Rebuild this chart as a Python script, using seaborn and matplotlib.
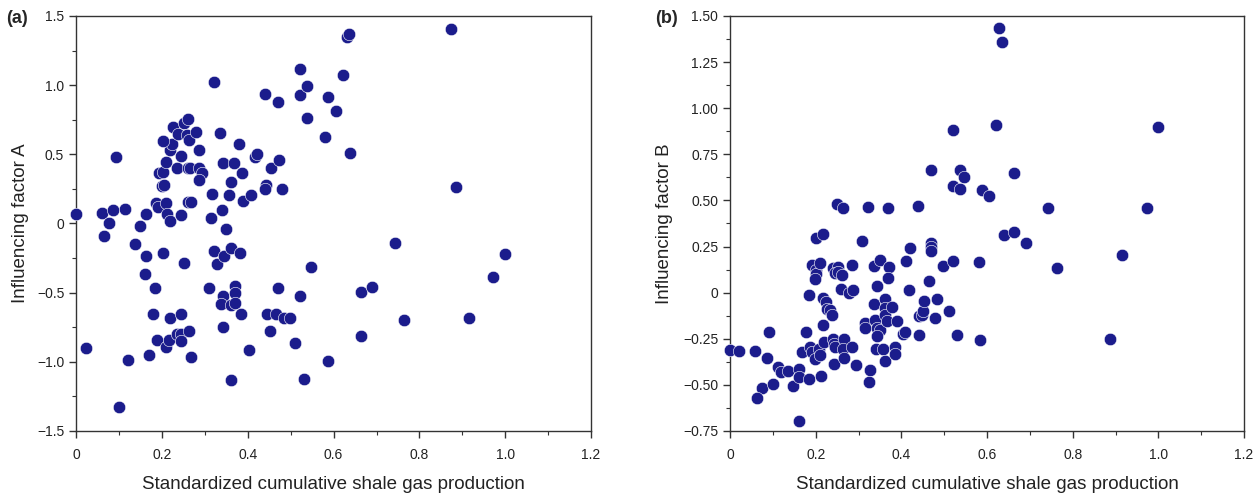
import numpy as np
import pandas as pd
import seaborn as sns
import matplotlib.pyplot as plt
from matplotlib.ticker import MultipleLocator

# panel (a): standardized production vs influencing factor A
prod_a = [0.0, 0.060, 0.087, 0.114, 0.077, 0.093, 0.148, 0.163, 0.186, 0.190,
          0.210, 0.213, 0.219, 0.244, 0.194, 0.202, 0.200, 0.204, 0.210, 0.219,
          0.223, 0.202, 0.227, 0.238, 0.235, 0.244, 0.252, 0.261, 0.258, 0.264,
          0.261, 0.266, 0.279, 0.286, 0.286, 0.293, 0.287, 0.260, 0.267, 0.322,
          0.336, 0.343, 0.316, 0.315, 0.340, 0.350, 0.356, 0.362, 0.367, 0.387,
          0.379, 0.390, 0.408, 0.416, 0.421, 0.440, 0.471, 0.454, 0.473, 0.442,
          0.441, 0.479, 0.521, 0.521, 0.538, 0.538, 0.580, 0.588, 0.605, 0.622,
          0.631, 0.636, 0.639, 0.874, 0.886,
          0.023, 0.064, 0.137, 0.162, 0.160, 0.202, 0.252, 0.185, 0.180, 0.218,
          0.244, 0.189, 0.169, 0.121, 0.101, 0.210, 0.216, 0.236, 0.244, 0.244,
          0.264, 0.267, 0.322, 0.328, 0.345, 0.361, 0.381, 0.309, 0.343, 0.337,
          0.370, 0.370, 0.362, 0.371, 0.385, 0.343, 0.404, 0.362, 0.446, 0.465,
          0.453, 0.471, 0.485, 0.499, 0.521, 0.510, 0.531, 0.548, 0.586,
          0.664, 0.664, 0.690, 0.744, 0.765, 0.915, 0.972, 0.999]
factor_a = [0.072, 0.077, 0.096, 0.106, 0.0, 0.478, -0.015, 0.067, 0.145, 0.116,
            0.145, 0.072, 0.019, 0.060, 0.362, 0.374, 0.270, 0.280, 0.446, 0.530,
            0.574, 0.598, 0.695, 0.644, 0.402, 0.487, 0.728, 0.757, 0.639, 0.603,
            0.398, 0.398, 0.658, 0.530, 0.402, 0.362, 0.313, 0.152, 0.152, 1.020,
            0.656, 0.434, 0.210, 0.043, 0.096, -0.040, 0.205, 0.300, 0.434, 0.366,
            0.574, 0.161, 0.205, 0.482, 0.501, 0.933, 0.880, 0.402, 0.456, 0.277,
            0.246, 0.248, 1.120, 0.930, 0.993, 0.764, 0.622, 0.916, 0.810, 1.075,
            1.350, 1.368, 0.506, 1.406, 0.263,
            -0.902, -0.090, -0.150, -0.234, -0.362, -0.217, -0.285, -0.463, -0.651, -0.680,
            -0.651, -0.845, -0.948, -0.984, -1.330, -0.893, -0.845, -0.800, -0.796, -0.850,
            -0.780, -0.965, -0.198, -0.290, -0.237, -0.174, -0.217, -0.463, -0.526, -0.584,
            -0.451, -0.502, -0.591, -0.574, -0.651, -0.748, -0.912, -1.134, -0.651, -0.651,
            -0.777, -0.466, -0.680, -0.680, -0.526, -0.861, -1.124, -0.314, -0.994,
            -0.813, -0.497, -0.459, -0.140, -0.700, -0.680, -0.390, -0.222]

# panel (b): standardized production vs influencing factor B
prod_b = [0.249, 0.263, 0.323, 0.368, 0.439, 0.469, 0.520, 0.520, 0.537, 0.547,
          0.537, 0.629, 0.635, 0.621, 1.0, 0.588, 0.605, 0.664, 0.742, 0.973,
          0.639, 0.664, 0.691, 0.914, 0.763, 0.887,
          0.0, 0.021, 0.058, 0.091, 0.086, 0.112, 0.118, 0.136, 0.074, 0.064,
          0.100, 0.147, 0.160, 0.161, 0.160, 0.167, 0.185, 0.178, 0.187, 0.192,
          0.199, 0.207, 0.209, 0.212, 0.216, 0.220, 0.241, 0.243, 0.245, 0.243,
          0.266, 0.263, 0.266, 0.285, 0.293, 0.326, 0.324, 0.184, 0.218, 0.223,
          0.226, 0.234, 0.238, 0.192, 0.201, 0.200, 0.199, 0.210, 0.200, 0.218,
          0.241, 0.251, 0.245, 0.253, 0.262, 0.260, 0.277, 0.286, 0.285, 0.307,
          0.314, 0.314, 0.335, 0.349, 0.344, 0.335, 0.339, 0.343, 0.350, 0.344,
          0.341, 0.357, 0.361, 0.362, 0.361, 0.367, 0.361, 0.370, 0.369, 0.379,
          0.389, 0.386, 0.384, 0.403, 0.408, 0.411, 0.419, 0.417, 0.442, 0.440,
          0.447, 0.450, 0.453, 0.464, 0.469, 0.469, 0.469, 0.478, 0.484, 0.498,
          0.511, 0.520, 0.530, 0.581, 0.584]
factor_b = [0.478, 0.460, 0.462, 0.457, 0.471, 0.663, 0.880, 0.578, 0.666, 0.627,
            0.563, 1.435, 1.359, 0.907, 0.896, 0.556, 0.522, 0.650, 0.458, 0.457,
            0.314, 0.330, 0.267, 0.203, 0.135, -0.250,
            -0.312, -0.316, -0.316, -0.214, -0.354, -0.402, -0.430, -0.426, -0.516, -0.571,
            -0.498, -0.506, -0.415, -0.457, -0.697, -0.321, -0.466, -0.216, -0.294, -0.321,
            -0.361, -0.303, -0.339, -0.453, -0.176, -0.267, -0.249, -0.279, -0.297, -0.388,
            -0.249, -0.303, -0.357, -0.294, -0.393, -0.421, -0.484, -0.014, -0.028, -0.050,
            -0.086, -0.095, -0.122, 0.149, 0.122, 0.100, 0.073, 0.162, 0.297, 0.317,
            0.131, 0.140, 0.104, 0.113, 0.095, 0.019, -0.004, 0.014, 0.149, 0.281,
            -0.167, -0.191, 0.144, 0.176, 0.035, -0.064, -0.149, -0.194, -0.203, -0.236,
            -0.303, -0.308, -0.037, -0.082, -0.122, -0.155, -0.370, 0.140, 0.082, -0.080,
            -0.155, -0.294, -0.334, -0.222, -0.216, 0.171, 0.240, 0.014, -0.229, -0.128,
            -0.122, -0.099, -0.046, 0.064, 0.267, 0.249, 0.227, -0.137, -0.034, 0.146,
            -0.097, 0.173, -0.227, 0.164, -0.258]

x_ticks = [0, 0.2, 0.4, 0.6, 0.8, 1.0, 1.2]
x_labels = ["0", "0.2", "0.4", "0.6", "0.8", "1.0", "1.2"]
ya_ticks = [-1.5, -1.0, -0.5, 0, 0.5, 1.0, 1.5]
ya_labels = ["\u22121.5", "\u22121.0", "\u22120.5", "0", "0.5", "1.0", "1.5"]
yb_ticks = [-0.75, -0.5, -0.25, 0, 0.25, 0.5, 0.75, 1.0, 1.25, 1.5]
yb_labels = ["\u22120.75", "\u22120.50", "\u22120.25", "0", "0.25", "0.50",
             "0.75", "1.00", "1.25", "1.50"]

df_a = pd.DataFrame({"prod": prod_a, "factor": factor_a})
df_b = pd.DataFrame({"prod": prod_b, "factor": factor_b})

sns.set_style("ticks")
plt.rcParams['font.family'] = ['Liberation Sans', 'DejaVu Sans']

dot = "#1b1c8c"
fig = plt.figure(figsize=(12.55, 4.93), dpi=100)
ax_a = fig.add_axes([0.0606, 0.1258, 0.4104, 0.8418])
ax_b = fig.add_axes([0.5817, 0.1258, 0.4096, 0.8418])

panels = [(ax_a, df_a, "Influencing factor A", ya_ticks, ya_labels, (-1.5, 1.5), 0.25, "(a)", 0.005, 6),
          (ax_b, df_b, "Influencing factor B", yb_ticks, yb_labels, (-0.75, 1.5), 0.125, "(b)", 0.522, 7)]

for ax, d, ylab, yt, yl, ylim, yminor, tag, tag_x, ypad in panels:
    sns.scatterplot(data=d, x="prod", y="factor", ax=ax, color=dot, s=80,
                    edgecolor="white", linewidth=0.4, legend=False, zorder=3,
                    clip_on=False)
    ax.set_xlim(0, 1.2)
    ax.set_ylim(*ylim)
    ax.set_xticks(x_ticks)
    ax.set_xticklabels(x_labels)
    ax.set_yticks(yt)
    ax.set_yticklabels(yl)
    ax.xaxis.set_minor_locator(MultipleLocator(0.1))
    ax.yaxis.set_minor_locator(MultipleLocator(yminor))
    ax.tick_params(which="major", length=5, width=1, labelsize=10, color="#333333",
                   labelcolor="#222222")
    ax.tick_params(which="minor", length=3, width=0.8, color="#333333")
    ax.tick_params(axis="x", pad=7)
    for sp in ax.spines.values():
        sp.set_visible(True)
        sp.set_color("#333333")
        sp.set_linewidth(1.0)
    ax.set_xlabel("Standardized cumulative shale gas production", fontsize=13.5,
                  labelpad=10, color="#222222")
    ax.set_ylabel(ylab, fontsize=13.5, labelpad=ypad, color="#222222")
    fig.text(tag_x, 0.962, tag, fontsize=13, fontweight="bold", ha="left", va="center")

plt.savefig("out.png", dpi=100)
